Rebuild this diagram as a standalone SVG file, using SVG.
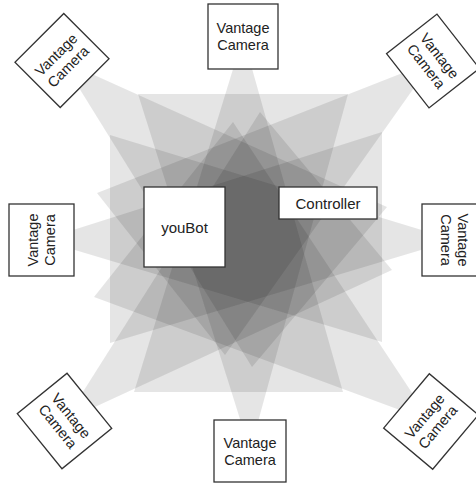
<svg xmlns="http://www.w3.org/2000/svg" width="476" height="484" viewBox="0 0 476 484">
<style>
.cone{fill:#000;fill-opacity:0.1;stroke:none}
.box{fill:#fff;stroke:#333;stroke-width:1.3}
.t{font-family:"Liberation Sans",Arial,sans-serif;font-size:14.5px;fill:#222;text-anchor:middle}
.t2{font-family:"Liberation Sans",Arial,sans-serif;font-size:15px;fill:#222;text-anchor:middle}
</style>
<rect width="476" height="484" fill="#fff"/>
<g id="views">
<polygon class="cone" points="243,36.5 134,392 343,392"/>
<polygon class="cone" points="250,451 138,94 348,94"/>
<polygon class="cone" points="41.5,240 382,132 382,342"/>
<polygon class="cone" points="454.5,240 110,135 110,343"/>
<polygon class="cone" points="62,60.5 387,207 252,367"/>
<polygon class="cone" points="433,61 97,193 225,355"/>
<polygon class="cone" points="64.5,421 392,270 260,112"/>
<polygon class="cone" points="431,421.5 94,297 233,122"/>
</g>
<g id="connectors"/>
<g id="cam-top" transform="translate(243,36.5)">
<rect class="box" x="-35" y="-32.5" width="70" height="65"/>
<text class="t" x="0" y="-3.3">Vantage</text><text class="t" x="0" y="13.7">Camera</text>
</g>
<g id="cam-bottom" transform="translate(250,451)">
<rect class="box" x="-36" y="-31" width="72" height="62"/>
<text class="t" x="0" y="-3.3">Vantage</text><text class="t" x="0" y="13.7">Camera</text>
</g>
<g id="cam-left" transform="translate(41.5,240) rotate(-90)">
<rect class="box" x="-36" y="-32.5" width="72" height="65"/>
<text class="t" x="0" y="-3.3">Vantage</text><text class="t" x="0" y="13.7">Camera</text>
</g>
<g id="cam-right" transform="translate(454.5,240) rotate(90)">
<rect class="box" x="-36" y="-32.5" width="72" height="65"/>
<text class="t" x="0" y="-3.3">Vantage</text><text class="t" x="0" y="13.7">Camera</text>
</g>
<g id="cam-topleft" transform="translate(62,60.5) rotate(-45)">
<rect class="box" x="-34.5" y="-32" width="69" height="64"/>
<text class="t" x="0" y="-3.3">Vantage</text><text class="t" x="0" y="13.7">Camera</text>
</g>
<g id="cam-topright" transform="translate(433,61) rotate(52)">
<rect class="box" x="-34.5" y="-32" width="69" height="64"/>
<text class="t" x="0" y="-3.3">Vantage</text><text class="t" x="0" y="13.7">Camera</text>
</g>
<g id="cam-bottomleft" transform="translate(64.5,421) rotate(51)">
<rect class="box" x="-35.5" y="-32" width="71" height="64"/>
<text class="t" x="0" y="-3.3">Vantage</text><text class="t" x="0" y="13.7">Camera</text>
</g>
<g id="cam-bottomright" transform="translate(431,421.5) rotate(-50)">
<rect class="box" x="-35.5" y="-32" width="71" height="64"/>
<text class="t" x="0" y="-3.3">Vantage</text><text class="t" x="0" y="13.7">Camera</text>
</g>
<g id="youbot">
<rect class="box" x="144" y="187" width="81" height="80"/>
<text class="t2" x="184.5" y="233">youBot</text>
</g>
<g id="controller">
<rect class="box" x="279" y="187" width="98" height="32"/>
<text class="t2" x="328" y="208.5">Controller</text>
</g>
</svg>
